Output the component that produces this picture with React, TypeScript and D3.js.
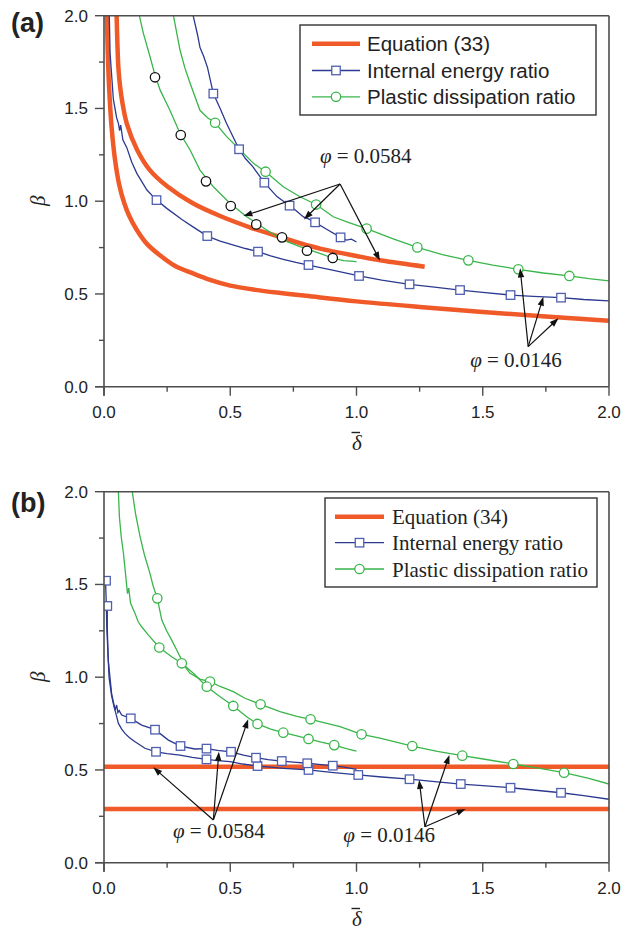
import React from "react";
import * as d3 from "d3";

type P = [number, number];

// ---------- axis ticks ----------
const majorTicks = [0, 0.5, 1.0, 1.5, 2.0];
const minorTicks = [0.25, 0.75, 1.25, 1.75];
const tickLabels = ["0.0", "0.5", "1.0", "1.5", "2.0"];

// ---------- panel (a) ----------
const eq33Phi0146: P[] = [[0.011,2.0],[0.015,1.8],[0.02,1.62],[0.03,1.40],[0.044,1.22],[0.06,1.09],[0.08,0.99],[0.1,0.92],[0.13,0.845],[0.17,0.77],[0.22,0.71],[0.28,0.652],[0.35,0.612],[0.42,0.576],[0.5,0.545],[0.6,0.522],[0.7,0.505],[0.8,0.49],[1.0,0.46],[1.25,0.43],[1.5,0.403],[1.75,0.378],[2.0,0.356]];
const eq33Phi0584: P[] = [[0.05,2.0],[0.053,1.85],[0.057,1.72],[0.064,1.615],[0.073,1.53],[0.09,1.42],[0.13,1.28],[0.18,1.17],[0.25,1.08],[0.35,0.99],[0.46,0.92],[0.58,0.858],[0.7,0.806],[0.78,0.772],[0.86,0.743],[1.0,0.705],[1.1,0.68],[1.27,0.647]];

const energyA0146: P[] = [[0.021,2.0],[0.024,1.8],[0.037,1.55],[0.05,1.45],[0.057,1.42],[0.062,1.38],[0.066,1.41],[0.075,1.33],[0.09,1.29],[0.11,1.21],[0.13,1.15],[0.17,1.06],[0.208,1.006],[0.25,0.96],[0.31,0.90],[0.36,0.855],[0.409,0.812],[0.46,0.785],[0.51,0.765],[0.56,0.745],[0.61,0.728],[0.66,0.705],[0.71,0.687],[0.76,0.67],[0.81,0.656],[0.9,0.63],[1.01,0.597],[1.1,0.575],[1.21,0.552],[1.3,0.538],[1.41,0.521],[1.5,0.508],[1.61,0.494],[1.7,0.487],[1.81,0.48],[1.9,0.47],[2.0,0.463]];
const energyA0146Marks: P[] = [[0.208,1.006],[0.409,0.812],[0.61,0.728],[0.81,0.656],[1.01,0.597],[1.21,0.552],[1.41,0.521],[1.61,0.494],[1.81,0.48]];
const energyA0584: P[] = [[0.353,2.0],[0.37,1.9],[0.38,1.83],[0.395,1.78],[0.41,1.72],[0.433,1.58],[0.46,1.50],[0.485,1.42],[0.51,1.35],[0.535,1.28],[0.56,1.23],[0.59,1.185],[0.635,1.10],[0.685,1.025],[0.735,0.976],[0.76,0.95],[0.79,0.915],[0.81,0.905],[0.836,0.886],[0.88,0.85],[0.937,0.805],[0.96,0.79],[0.98,0.795],[1.0,0.78]];
const energyA0584Marks: P[] = [[0.433,1.58],[0.535,1.28],[0.635,1.10],[0.735,0.976],[0.836,0.886],[0.937,0.805]];

const plasticA0146: P[] = [[0.275,2.0],[0.301,1.815],[0.32,1.72],[0.341,1.636],[0.38,1.49],[0.41,1.45],[0.44,1.423],[0.486,1.348],[0.539,1.276],[0.592,1.204],[0.64,1.159],[0.71,1.078],[0.776,1.024],[0.84,0.982],[0.908,0.916],[0.97,0.885],[1.04,0.852],[1.14,0.80],[1.241,0.751],[1.34,0.712],[1.443,0.681],[1.54,0.655],[1.641,0.633],[1.74,0.613],[1.843,0.597],[1.92,0.583],[2.0,0.571]];
const plasticA0146Marks: P[] = [[0.44,1.423],[0.64,1.159],[0.84,0.982],[1.04,0.852],[1.241,0.751],[1.443,0.681],[1.641,0.633],[1.843,0.597]];
const plasticA0584: P[] = [[0.14,2.0],[0.156,1.905],[0.182,1.78],[0.202,1.68],[0.222,1.60],[0.261,1.49],[0.301,1.366],[0.341,1.276],[0.38,1.168],[0.433,1.078],[0.499,0.989],[0.565,0.916],[0.605,0.881],[0.644,0.845],[0.71,0.79],[0.776,0.755],[0.855,0.719],[0.908,0.692],[0.95,0.68],[1.0,0.674]];
const blackCirclesA: P[] = [[0.202,1.668],[0.304,1.357],[0.404,1.107],[0.502,0.974],[0.603,0.875],[0.705,0.805],[0.804,0.733],[0.906,0.694]];

// ---------- panel (b) ----------
const eq34Levels = [0.517, 0.289];
const eq34Span: [number, number] = [0, 2];

const energyB0584: P[] = [[0.006,1.52],[0.009,1.40],[0.011,1.27],[0.017,1.09],[0.03,0.913],[0.044,0.823],[0.05,0.85],[0.055,0.81],[0.06,0.82],[0.07,0.796],[0.106,0.778],[0.149,0.742],[0.202,0.717],[0.255,0.661],[0.303,0.629],[0.36,0.613],[0.406,0.615],[0.45,0.605],[0.503,0.598],[0.552,0.58],[0.602,0.566],[0.65,0.556],[0.704,0.548],[0.75,0.542],[0.805,0.536],[0.85,0.53],[0.906,0.523],[0.95,0.515],[1.0,0.503]];
const energyB0584Marks: P[] = [[0.008,1.52],[0.106,0.778],[0.202,0.717],[0.303,0.629],[0.406,0.615],[0.503,0.598],[0.602,0.566],[0.704,0.548],[0.805,0.536],[0.906,0.523]];
const energyB0146: P[] = [[0.013,1.384],[0.013,1.27],[0.016,1.12],[0.02,1.0],[0.03,0.9],[0.04,0.84],[0.048,0.80],[0.057,0.751],[0.07,0.72],[0.083,0.697],[0.1,0.675],[0.123,0.652],[0.162,0.617],[0.206,0.598],[0.25,0.588],[0.301,0.58],[0.35,0.568],[0.406,0.557],[0.45,0.55],[0.499,0.545],[0.55,0.532],[0.608,0.521],[0.66,0.515],[0.71,0.509],[0.81,0.50],[0.9,0.487],[1.007,0.473],[1.1,0.462],[1.21,0.45],[1.3,0.438],[1.413,0.424],[1.5,0.415],[1.61,0.404],[1.7,0.392],[1.81,0.377],[1.9,0.362],[2.0,0.342]];
const energyB0146Marks: P[] = [[0.013,1.384],[0.206,0.598],[0.406,0.557],[0.608,0.521],[0.81,0.5],[1.007,0.473],[1.21,0.45],[1.413,0.424],[1.61,0.404],[1.81,0.377]];

const plasticB0584: P[] = [[0.057,2.0],[0.061,1.865],[0.068,1.76],[0.077,1.668],[0.085,1.56],[0.093,1.45],[0.098,1.48],[0.105,1.40],[0.123,1.344],[0.135,1.30],[0.149,1.272],[0.176,1.227],[0.219,1.16],[0.268,1.11],[0.308,1.075],[0.354,1.021],[0.407,0.949],[0.46,0.895],[0.512,0.845],[0.565,0.787],[0.608,0.748],[0.66,0.72],[0.71,0.701],[0.76,0.685],[0.81,0.667],[0.86,0.65],[0.912,0.634],[0.96,0.615],[1.0,0.602]];
const plasticB0584Marks: P[] = [[0.219,1.16],[0.308,1.075],[0.407,0.949],[0.512,0.845],[0.608,0.748],[0.71,0.701],[0.81,0.667],[0.912,0.634]];
const plasticB0146: P[] = [[0.112,2.0],[0.125,1.88],[0.143,1.757],[0.16,1.66],[0.182,1.56],[0.195,1.49],[0.211,1.425],[0.229,1.308],[0.248,1.25],[0.268,1.20],[0.288,1.147],[0.308,1.092],[0.327,1.045],[0.341,1.021],[0.38,0.99],[0.42,0.976],[0.46,0.95],[0.512,0.922],[0.56,0.885],[0.62,0.854],[0.697,0.814],[0.76,0.79],[0.818,0.773],[0.935,0.733],[1.02,0.692],[1.093,0.671],[1.221,0.629],[1.32,0.60],[1.419,0.577],[1.52,0.555],[1.621,0.532],[1.72,0.51],[1.822,0.485],[1.92,0.455],[2.0,0.424]];
const plasticB0146Marks: P[] = [[0.211,1.425],[0.42,0.976],[0.62,0.854],[0.818,0.773],[1.02,0.692],[1.221,0.629],[1.419,0.577],[1.621,0.532],[1.822,0.485]];

// ---------- annotations (data coordinates) ----------
type Ann = { text: string; at: P; apex: P; targets: P[] };
const annotationsA: Ann[] = [
  { text: "0.0584", at: [0.855, 1.205], apex: [0.935, 1.093], targets: [[0.552, 0.92], [0.792, 0.902], [1.093, 0.679]] },
  { text: "0.0146", at: [1.45, 0.108], apex: [1.68, 0.216], targets: [[1.648, 0.638], [1.74, 0.485], [1.8, 0.369]] },
];
const annotationsB: Ann[] = [
  { text: "0.0584", at: [0.273, 0.132], apex: [0.433, 0.23], targets: [[0.195, 0.514], [0.455, 0.598], [0.571, 0.773]] },
  { text: "0.0146", at: [0.948, 0.113], apex: [1.271, 0.194], targets: [[1.248, 0.446], [1.368, 0.581], [1.432, 0.289]] },
];

const legendLabelsA = ["Equation (33)", "Internal energy ratio", "Plastic dissipation ratio"];
const legendLabelsB = ["Equation (34)", "Internal energy ratio", "Plastic dissipation ratio"];

// ---------- style ----------
const RED = "#f05a28";
const BLUE = "#2b3990";
const BLUE_MARK = "#4f5fb0";
const GREEN = "#39b54a";
const AXIS = "#4d4d4d";
const SANS = "'Liberation Sans', Arial, Helvetica, sans-serif";
const SERIF = "'Liberation Serif', 'Times New Roman', serif";

const X_LEFT = 104;
const X_RIGHT = 609;
const PLOT_H = 371;

function Square({ cx, cy, s = 8.5 }: { cx: number; cy: number; s?: number }) {
  return <rect x={cx - s / 2} y={cy - s / 2} width={s} height={s} fill="#fff" stroke={BLUE_MARK} strokeWidth={1.3} />;
}
function Circ({ cx, cy, color, r = 4.7 }: { cx: number; cy: number; color: string; r?: number }) {
  return <circle cx={cx} cy={cy} r={r} fill="#fff" stroke={color} strokeWidth={1.3} />;
}

function Arrow({ from, to }: { from: [number, number]; to: [number, number] }) {
  const dx = to[0] - from[0];
  const dy = to[1] - from[1];
  const len = Math.hypot(dx, dy);
  const ux = dx / len, uy = dy / len;
  const hl = 9, hw = 3.2;
  const bx = to[0] - ux * hl, by = to[1] - uy * hl;
  const pts = `${to[0]},${to[1]} ${bx - uy * hw},${by + ux * hw} ${bx + uy * hw},${by - ux * hw}`;
  return (
    <g>
      <line x1={from[0]} y1={from[1]} x2={bx + ux * 1} y2={by + uy * 1} stroke="#111" strokeWidth={1.2} />
      <polygon points={pts} fill="#111" />
    </g>
  );
}

type LegendCfg = { x0: number; x1: number; y0: number; y1: number; sx0: number; sx1: number; tx: number; rows: number[]; font: string; size: number; labels: string[] };

function Panel({ id, y0, label, labelY, build, annotations, legend }: {
  id: string; y0: number; label: string; labelY: number;
  build: (x: any, y: any) => React.ReactNode; annotations: Ann[]; legend: LegendCfg;
}) {
  const x = d3.scaleLinear().domain([0, 2]).range([X_LEFT, X_RIGHT]);
  const y = d3.scaleLinear().domain([0, 2]).range([y0, y0 - PLOT_H]);
  const yTop = y(2);
  return (
    <g>
      <defs>
        <clipPath id={`clip-${id}`}>
          <rect x={X_LEFT} y={yTop} width={X_RIGHT - X_LEFT} height={PLOT_H} />
        </clipPath>
      </defs>
      <g clipPath={`url(#clip-${id})`}>{build(x, y)}</g>

      {/* frame & axes */}
      <line x1={X_LEFT} y1={yTop} x2={X_RIGHT} y2={yTop} stroke={AXIS} strokeWidth={1.6} />
      <line x1={X_RIGHT} y1={yTop} x2={X_RIGHT} y2={y0} stroke={AXIS} strokeWidth={1.6} />
      <line x1={X_LEFT} y1={yTop} x2={X_LEFT} y2={y0 + 9} stroke={AXIS} strokeWidth={1.6} />
      <line x1={X_LEFT - 9} y1={y0} x2={X_RIGHT} y2={y0} stroke={AXIS} strokeWidth={1.6} />
      {majorTicks.map((t, i) => (
        <g key={`mx${i}`}>
          <line x1={x(t)} x2={x(t)} y1={y0} y2={y0 + 9} stroke={AXIS} strokeWidth={1.4} />
          <line x1={X_LEFT - 9} x2={X_LEFT} y1={y(t)} y2={y(t)} stroke={AXIS} strokeWidth={1.4} />
          <text x={x(t)} y={y0 + 31.6} textAnchor="middle" fontFamily={SANS} fontSize={17} fill="#222">{tickLabels[i]}</text>
          <text x={88} y={y(t) + 6} textAnchor="end" fontFamily={SANS} fontSize={17} fill="#222">{tickLabels[i]}</text>
        </g>
      ))}
      {minorTicks.map((t, i) => (
        <g key={`mn${i}`}>
          <line x1={x(t)} x2={x(t)} y1={y0} y2={y0 + 5} stroke={AXIS} strokeWidth={1.4} />
          <line x1={X_LEFT - 5} x2={X_LEFT} y1={y(t)} y2={y(t)} stroke={AXIS} strokeWidth={1.4} />
        </g>
      ))}

      {/* axis titles */}
      <text transform={`translate(37.5, ${y(1) - 0.5}) rotate(-90)`} textAnchor="middle" dominantBaseline="central" fontFamily={SERIF} fontStyle="italic" fontSize={21} fill="#222">β</text>
      <text x={357} y={y0 + 63.5} textAnchor="middle" fontFamily={SERIF} fontStyle="italic" fontSize={21} fill="#222">δ</text>
      <line x1={351.5} x2={360} y1={y0 + 45.8} y2={y0 + 45.8} stroke="#222" strokeWidth={1.4} />

      {/* panel label */}
      <text x={11} y={labelY} fontFamily={SANS} fontWeight="bold" fontSize={27} fill="#222">{label}</text>

      {/* annotations */}
      {annotations.map((a, i) => (
        <g key={`an${i}`}>
          {a.targets.map((t, j) => (
            <Arrow key={j} from={[x(a.apex[0]), y(a.apex[1])]} to={[x(t[0]), y(t[1])]} />
          ))}
          <text x={x(a.at[0])} y={y(a.at[1])} fontFamily={SERIF} fontSize={21} fill="#222">
            <tspan fontStyle="italic">φ</tspan>
            <tspan> = {a.text}</tspan>
          </text>
        </g>
      ))}

      {/* legend */}
      <rect x={legend.x0} y={legend.y0} width={legend.x1 - legend.x0} height={legend.y1 - legend.y0} fill="#fff" stroke="#333" strokeWidth={1.4} />
      <line x1={legend.sx0} x2={legend.sx1} y1={legend.rows[0]} y2={legend.rows[0]} stroke={RED} strokeWidth={4.5} />
      <line x1={legend.sx0} x2={legend.sx1} y1={legend.rows[1]} y2={legend.rows[1]} stroke={BLUE} strokeWidth={1.3} />
      <Square cx={(legend.sx0 + legend.sx1) / 2} cy={legend.rows[1]} />
      <line x1={legend.sx0} x2={legend.sx1} y1={legend.rows[2]} y2={legend.rows[2]} stroke={GREEN} strokeWidth={1.3} />
      <Circ cx={(legend.sx0 + legend.sx1) / 2} cy={legend.rows[2]} color={GREEN} />
      {legend.labels.map((l, i) => (
        <text key={l} x={legend.tx} y={legend.rows[i] + 7.5} fontFamily={legend.font} fontSize={legend.size} fill="#222">{l}</text>
      ))}
    </g>
  );
}

function curvePath(x: any, y: any, pts: P[], smooth: boolean) {
  const gen = d3.line<P>().x((d) => x(d[0])).y((d) => y(d[1]));
  if (smooth) gen.curve(d3.curveCatmullRom.alpha(0.5));
  return gen(pts) || "";
}

export default function App() {
  const buildA = (x: any, y: any) => (
    <g>
      <path d={curvePath(x, y, eq33Phi0146, true)} fill="none" stroke={RED} strokeWidth={4.5} />
      <path d={curvePath(x, y, eq33Phi0584, true)} fill="none" stroke={RED} strokeWidth={4.5} />
      <path d={curvePath(x, y, energyA0146, false)} fill="none" stroke={BLUE} strokeWidth={1.3} />
      <path d={curvePath(x, y, energyA0584, false)} fill="none" stroke={BLUE} strokeWidth={1.3} />
      <path d={curvePath(x, y, plasticA0146, false)} fill="none" stroke={GREEN} strokeWidth={1.3} />
      <path d={curvePath(x, y, plasticA0584, false)} fill="none" stroke={GREEN} strokeWidth={1.3} />
      {energyA0146Marks.concat(energyA0584Marks).map((d, i) => <Square key={`sa${i}`} cx={x(d[0])} cy={y(d[1])} />)}
      {plasticA0146Marks.map((d, i) => <Circ key={`ca${i}`} cx={x(d[0])} cy={y(d[1])} color={GREEN} />)}
      {blackCirclesA.map((d, i) => <Circ key={`ba${i}`} cx={x(d[0])} cy={y(d[1])} color="#111" />)}
    </g>
  );
  const buildB = (x: any, y: any) => (
    <g>
      {eq34Levels.map((v, i) => (
        <line key={`r${i}`} x1={x(eq34Span[0])} x2={x(eq34Span[1])} y1={y(v)} y2={y(v)} stroke={RED} strokeWidth={4.5} />
      ))}
      <path d={curvePath(x, y, energyB0146, false)} fill="none" stroke={BLUE} strokeWidth={1.3} />
      <path d={curvePath(x, y, energyB0584, false)} fill="none" stroke={BLUE} strokeWidth={1.3} />
      <path d={curvePath(x, y, plasticB0146, false)} fill="none" stroke={GREEN} strokeWidth={1.3} />
      <path d={curvePath(x, y, plasticB0584, false)} fill="none" stroke={GREEN} strokeWidth={1.3} />
      {energyB0146Marks.concat(energyB0584Marks).map((d, i) => <Square key={`sb${i}`} cx={x(d[0])} cy={y(d[1])} />)}
      {plasticB0146Marks.concat(plasticB0584Marks).map((d, i) => <Circ key={`cb${i}`} cx={x(d[0])} cy={y(d[1])} color={GREEN} />)}
    </g>
  );

  return (
    <svg width={633} height={930} viewBox="0 0 633 930" style={{ position: "absolute", left: 0, top: 0, background: "#fff" }}>
      <rect x={0} y={0} width={633} height={930} fill="#fff" />
      <Panel
        id="a"
        y0={386.7}
        label="(a)"
        labelY={32}
        build={buildA}
        annotations={annotationsA}
        legend={{ x0: 300, x1: 596, y0: 25, y1: 115, sx0: 312, sx1: 360, tx: 367, rows: [43.7, 70.5, 96.8], font: SANS, size: 20.5, labels: legendLabelsA }}
      />
      <Panel
        id="b"
        y0={862.7}
        label="(b)"
        labelY={512}
        build={buildB}
        annotations={annotationsB}
        legend={{ x0: 325, x1: 597, y0: 498, y1: 587, sx0: 335, sx1: 384, tx: 392, rows: [516.7, 542.7, 569], font: SERIF, size: 21, labels: legendLabelsB }}
      />
    </svg>
  );
}
